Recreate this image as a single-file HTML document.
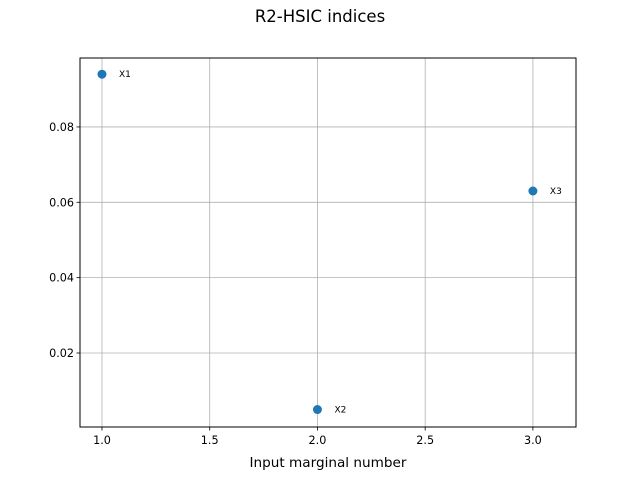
<!DOCTYPE html>
<html><head><meta charset="utf-8"><style>
body{margin:0;background:#fff;font-family:"DejaVu Sans","Liberation Sans",sans-serif}
</style></head><body>
<svg id="chart" width="640" height="480" xmlns="http://www.w3.org/2000/svg" font-family="DejaVu Sans, Liberation Sans, sans-serif">
<text x="320" y="22" text-anchor="middle" font-size="16.5">R2-HSIC indices</text>
<g id="grid"></g>
<rect x="80" y="58" width="496" height="369" fill="none" stroke="#000" stroke-width="1"/>
<g id="ticks"></g>
<g id="points"></g>
<text x="328" y="467" text-anchor="middle" font-size="13.6">Input marginal number</text>
</svg>
<script>
const categories = [1, 2, 3];
const labels = ["X1", "X2", "X3"];
const values = [0.094, 0.005, 0.063];
const xTicks = [1.0, 1.5, 2.0, 2.5, 3.0];
const xTickLabels = ["1.0", "1.5", "2.0", "2.5", "3.0"];
const yTicks = [0.02, 0.04, 0.06, 0.08];
const yTickLabels = ["0.02", "0.04", "0.06", "0.08"];

const L=80,R=576,T=58,B=427;
const xmin=0.898,xmax=3.2,ymin=0.00036,ymax=0.0983;
const xs=v=>L+(v-xmin)/(xmax-xmin)*(R-L);
const ys=v=>B-(v-ymin)/(ymax-ymin)*(B-T);
const NS="http://www.w3.org/2000/svg";
function mk(tag,attrs,parent){const e=document.createElementNS(NS,tag);for(const k in attrs)e.setAttribute(k,attrs[k]);document.getElementById(parent).appendChild(e);return e;}

xTicks.forEach((t,i)=>{
  const x=xs(t);
  const g=mk("line",{x1:x,x2:x,y1:T,y2:B,stroke:"#b0b0b0","stroke-width":0.8},"grid");
  
  
  const tk=mk("line",{x1:x,x2:x,y1:B,y2:B+3.5,stroke:"#000","stroke-width":0.8},"ticks");
  
  
  const tl=mk("text",{x:x,y:B+17,"text-anchor":"middle","font-size":"11.2"},"ticks");
  tl.textContent=xTickLabels[i];
  
  
});
yTicks.forEach((t,i)=>{
  const y=ys(t);
  const g=mk("line",{x1:L,x2:R,y1:y,y2:y,stroke:"#b0b0b0","stroke-width":0.8},"grid");
  
  
  const tk=mk("line",{x1:L-3.5,x2:L,y1:y,y2:y,stroke:"#000","stroke-width":0.8},"ticks");
  
  
  const tl=mk("text",{x:L-6,y:y+4,"text-anchor":"end","font-size":"11.2"},"ticks");
  tl.textContent=yTickLabels[i];
  
  
});
categories.forEach((c,i)=>{
  const x=xs(c),y=ys(values[i]);
  const p=mk("circle",{cx:x,cy:y,r:4.5,fill:"#1f77b4"},"points");
  
  
  const t=mk("text",{x:x+17,y:y+3,"font-size":"9"},"points");
  t.textContent=labels[i];
  
  
});
</script>
</body></html>
